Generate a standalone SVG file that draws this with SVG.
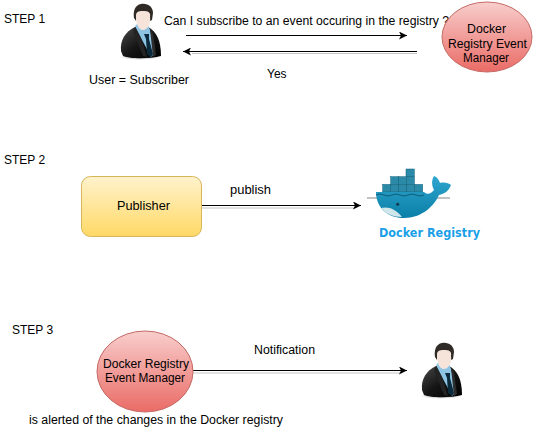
<svg xmlns="http://www.w3.org/2000/svg" width="533" height="433" viewBox="0 0 533 433">
<style>
text{font-family:"Liberation Sans",Arial,sans-serif;font-size:12px;fill:#000}
.l{stroke:#000;stroke-width:1;fill:none}
.s{stroke:#c4c4c4;stroke-width:1;fill:none}
.e{fill:url(#red);stroke:#c46a66;stroke-width:1}
.c{stroke:#0e5f78;stroke-width:.5}
</style>
<defs>
<linearGradient id="red" x1="0" y1="0" x2="0" y2="1"><stop offset="0" stop-color="#f8cecc"/><stop offset="1" stop-color="#ea6b66"/></linearGradient>
<linearGradient id="yel" x1="0" y1="0" x2="0" y2="1"><stop offset="0" stop-color="#fff2cc"/><stop offset="1" stop-color="#ffd966"/></linearGradient>
<linearGradient id="suit" x1="0" y1="0" x2="1" y2="1"><stop offset="0" stop-color="#4a4a4a"/><stop offset=".5" stop-color="#151515"/><stop offset="1" stop-color="#000"/></linearGradient>
<linearGradient id="hull" x1="0" y1="0" x2="0" y2="1"><stop offset="0" stop-color="#2fa6cf"/><stop offset="1" stop-color="#0a7fa8"/></linearGradient>
<radialGradient id="shade"><stop offset="0" stop-color="#777" stop-opacity=".8"/><stop offset="1" stop-color="#999" stop-opacity="0"/></radialGradient>
<marker id="a" markerWidth="9" markerHeight="8" refX="8" refY="4" orient="auto" markerUnits="userSpaceOnUse"><path d="M0 0L8 4L0 8L2 4Z" fill="#000"/></marker>
<symbol id="person" viewBox="0 0 42 56" width="42" height="56" overflow="visible">
<ellipse cx="20" cy="53" rx="21" ry="3" fill="url(#shade)"/>
<path d="M1 47C0 36 5 28 15 23L28 23C36 27 41 36 41 52C30 55 10 55 3 52Z" fill="url(#suit)"/>
<path d="M15 22L19 18L27 19L30 26L35 49L31 53L21 34Z" fill="#8dc3e3"/>
<path d="M24 30L29 30L29 35L33 50L31 53L27 50L26 35Z" fill="#0b2a3c"/>
<path d="M15 23L13 27L23 52L27 53L21 34Z" fill="#232323"/>
<path d="M30 25L33 30L36 51L33 53Z" fill="#2c2c2c"/>
<path d="M14 14C13 7 15 1 21 0C28-1 33 3 33 9L32 16L30 17L30 10L17 9L16 17Z" fill="#2f2a26"/>
<path d="M16 12C16 8 18 7 23 7C28 7 31 8 30 13C31 19 28 26 23 26C18 26 16 19 16 12Z" fill="#f6e4da"/>
</symbol>
</defs>
<g id="connectors">
<line class="l" x1="186" y1="35.500" x2="407" y2="35.500" marker-end="url(#a)"/>
<line class="s" x1="417" y1="53.500" x2="192" y2="53.500"/>
<line class="l" x1="417" y1="51.500" x2="183" y2="51.500" marker-end="url(#a)"/>
<line class="s" x1="202" y1="208" x2="355" y2="208"/>
<line class="l" x1="202" y1="205.500" x2="361" y2="205.500" marker-end="url(#a)"/>
<line class="s" x1="193" y1="373" x2="400" y2="373"/>
<line class="l" x1="193" y1="370.500" x2="407" y2="370.500" marker-end="url(#a)"/>
</g>
<g id="labels">
<text x="4" y="23">STEP 1</text>
<text x="164" y="25" textLength="285" lengthAdjust="spacingAndGlyphs">Can I subscribe to an event occuring in the registry ?</text>
<text x="89" y="84" textLength="100" lengthAdjust="spacingAndGlyphs">User = Subscriber</text>
<text x="267" y="78">Yes</text>
<text x="4" y="164">STEP 2</text>
<text x="230" y="194" textLength="41" lengthAdjust="spacingAndGlyphs">publish</text>
<text x="12" y="334">STEP 3</text>
<text x="254" y="354" textLength="61" lengthAdjust="spacingAndGlyphs">Notification</text>
<text x="29" y="424" textLength="254" lengthAdjust="spacingAndGlyphs">is alerted of the changes in the Docker registry</text>
</g>
<g id="subscriber"><use href="#person" x="120" y="4"/></g>
<g id="manager1">
<ellipse class="e" cx="487" cy="37" rx="45" ry="35"/>
<text x="467" y="33" textLength="39" lengthAdjust="spacingAndGlyphs">Docker</text>
<text x="448" y="48" textLength="79" lengthAdjust="spacingAndGlyphs">Registry Event</text>
<text x="463" y="62" textLength="46" lengthAdjust="spacingAndGlyphs">Manager</text>
</g>
<g id="publisher">
<rect x="81.500" y="176.500" width="120" height="60" rx="9" fill="url(#yel)" stroke="#d6b656"/>
<text x="117" y="210" textLength="53" lengthAdjust="spacingAndGlyphs">Publisher</text>
</g>
<g id="docker-registry">
<line x1="367" y1="198" x2="450" y2="198" stroke="#555" stroke-width=".7"/>
<g fill="#2a8aa8" class="c">
<rect x="406" y="169" width="8.300" height="7.700"/>
<rect x="390.700" y="176.700" width="8" height="7.700"/><rect x="398.700" y="176.700" width="7.700" height="7.700"/><rect x="406.400" y="176.700" width="8" height="7.700"/>
<rect x="382.700" y="184.400" width="8" height="7.600"/><rect x="390.700" y="184.400" width="8" height="7.600"/><rect x="398.700" y="184.400" width="8" height="7.600"/><rect x="406.700" y="184.400" width="8" height="7.600"/><rect x="414.700" y="184.400" width="8" height="7.600"/>
</g>
<path d="M376 192L424 192C427 195 431 194 434 190C431 184 432 179 434 176C437 177 439 180 440 183C444 182 449 183 451 185C449 191 444 194 439 195C434 206 422 218 404 218C388 218 376 208 376 192Z" fill="url(#hull)"/>
<path d="M381 208C388 206 396 209 402 217C393 217 386 214 381 208Z" fill="#cfe6ea"/>
<circle cx="397.700" cy="204.300" r="1.500" fill="#10384a"/>
<path d="M376 195Q380 193 384 195T392 195T400 195T408 195T416 195T424 195" fill="none" stroke="#0b4c66" stroke-width=".8"/>
<text x="379" y="237" textLength="101" lengthAdjust="spacingAndGlyphs" style="font-family:'DejaVu Sans',sans-serif;font-weight:bold;font-size:12.500px;fill:#1a9fe8">Docker Registry</text>
</g>
<g id="manager2">
<ellipse class="e" cx="145" cy="371.500" rx="48" ry="40.500"/>
<text x="103" y="368" textLength="86" lengthAdjust="spacingAndGlyphs">Docker Registry</text>
<text x="105" y="382" textLength="80" lengthAdjust="spacingAndGlyphs">Event Manager</text>
</g>
<g id="subscriber2"><use href="#person" x="421" y="343"/></g>
</svg>
